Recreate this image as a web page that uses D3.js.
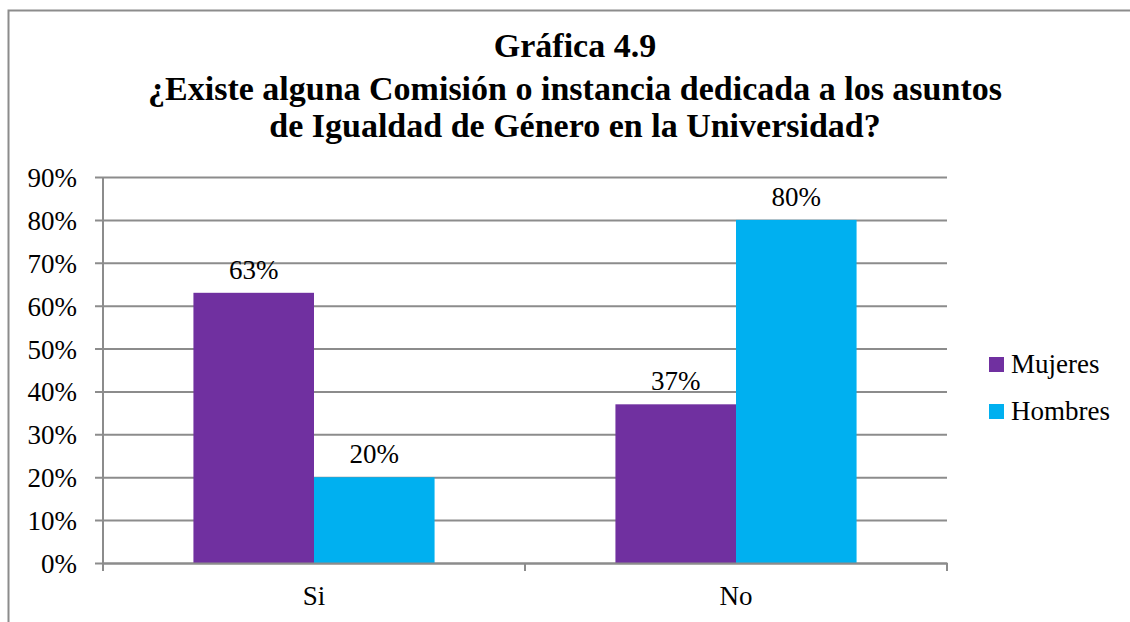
<!DOCTYPE html>
<html>
<head>
<meta charset="utf-8">
<script src="https://cdn.jsdelivr.net/npm/d3@7"></script>
<style>
  body { margin: 0; background: #fff; }
  svg text { font-family: "Liberation Serif", serif; fill: #000; }
</style>
</head>
<body>
<svg id="chart" width="1130" height="622"></svg>
<script>
const categories = ["Si", "No"];
const seriesNames = ["Mujeres", "Hombres"];
const mujeres = [0.63, 0.37];
const hombres = [0.20, 0.80];
const colors = ["#7030a0", "#00b0f0"];
const yTicks = [0, 0.1, 0.2, 0.3, 0.4, 0.5, 0.6, 0.7, 0.8, 0.9];
const titleLines = [
  "Gráfica 4.9",
  "¿Existe alguna Comisión o instancia dedicada a los asuntos",
  "de Igualdad de Género en la Universidad?"
];

const font = "'Liberation Serif', serif";
const svg = d3.select("#chart");

// outer frame
svg.append("rect")
  .attr("x", 8.5).attr("y", 10.5)
  .attr("width", 1140).attr("height", 640)
  .attr("fill", "none")
  .attr("stroke", "#8c8c8c")
  .attr("stroke-width", 2);

const margin = { left: 103, right: 947, top: 177, bottom: 563 };

const xScale = d3.scaleBand()
  .domain(categories)
  .range([margin.left, margin.right]);

const xInner = d3.scaleBand()
  .domain(seriesNames)
  .range([0, xScale.bandwidth()])
  .paddingOuter(0.75);

const yScale = d3.scaleLinear()
  .domain([0, 0.9])
  .range([margin.bottom, margin.top]);

// gridlines + y axis
const yAxis = d3.axisLeft(yScale)
  .tickValues(yTicks)
  .tickSize(-(margin.right - margin.left))
  .tickSizeOuter(0)
  .tickFormat(d3.format(".0%"));

const yG = svg.append("g")
  .attr("transform", `translate(${margin.left},0)`)
  .call(yAxis)
  .attr("font-family", font);
yG.select(".domain").remove();
yG.selectAll(".tick line")
  .attr("x1", -8)
  .attr("stroke", "#8c8c8c")
  .attr("stroke-width", 2);
yG.selectAll(".tick text")
  .attr("x", -26)
  .attr("dy", "0.35em")
  .style("font-size", "27px");

// vertical axis line
svg.append("line")
  .attr("x1", margin.left).attr("x2", margin.left)
  .attr("y1", margin.top).attr("y2", margin.bottom + 8)
  .attr("stroke", "#8c8c8c").attr("stroke-width", 2);

// bars
const rows = categories.map((c, i) => ({
  cat: c,
  values: [
    { name: seriesNames[0], value: mujeres[i] },
    { name: seriesNames[1], value: hombres[i] }
  ]
}));

const groups = svg.selectAll(".group")
  .data(rows)
  .join("g")
  .attr("class", "group")
  .attr("transform", d => `translate(${xScale(d.cat)},0)`);

groups.selectAll("rect")
  .data(d => d.values)
  .join("rect")
  .attr("x", d => xInner(d.name))
  .attr("y", d => yScale(d.value))
  .attr("width", xInner.bandwidth())
  .attr("height", d => yScale(0) - yScale(d.value))
  .attr("fill", (d, i) => colors[i]);

groups.selectAll(".label")
  .data(d => d.values)
  .join("text")
  .attr("class", "label")
  .attr("x", d => xInner(d.name) + xInner.bandwidth() / 2)
  .attr("y", d => yScale(d.value) - 14)
  .attr("text-anchor", "middle")
  .style("font-size", "27px")
  .text(d => d3.format(".0%")(d.value));

// x axis
const xAxis = d3.axisBottom(xScale).tickSize(0);
const xG = svg.append("g")
  .attr("transform", `translate(0,${margin.bottom})`)
  .call(xAxis)
  .attr("font-family", font);
xG.select(".domain")
  .attr("stroke", "#8c8c8c").attr("stroke-width", 2);
xG.selectAll(".tick text")
  .attr("y", 33)
  .attr("dy", "0.35em")
  .style("font-size", "27px");

// category boundary ticks
svg.selectAll(".sep")
  .data(categories.concat(["end"]))
  .join("line")
  .attr("class", "sep")
  .attr("x1", (d, i) => margin.left + i * xScale.bandwidth())
  .attr("x2", (d, i) => margin.left + i * xScale.bandwidth())
  .attr("y1", margin.bottom)
  .attr("y2", margin.bottom + 8)
  .attr("stroke", "#8c8c8c").attr("stroke-width", 2);

// title
svg.append("text")
  .attr("x", 575)
  .attr("text-anchor", "middle")
  .style("font-size", "34px")
  .style("font-weight", "bold")
  .selectAll("tspan")
  .data(titleLines)
  .join("tspan")
  .attr("x", 575)
  .attr("y", (d, i) => [57, 100, 137][i])
  .text(d => d);

// legend
const legend = svg.selectAll(".legend")
  .data(seriesNames)
  .join("g")
  .attr("class", "legend")
  .attr("transform", (d, i) => `translate(989,${357 + i * 47})`);
legend.append("rect")
  .attr("width", 15).attr("height", 15)
  .attr("fill", (d, i) => colors[i]);
legend.append("text")
  .attr("x", 22).attr("y", 16)
  .style("font-size", "27px")
  .text(d => d);
</script>
</body>
</html>
